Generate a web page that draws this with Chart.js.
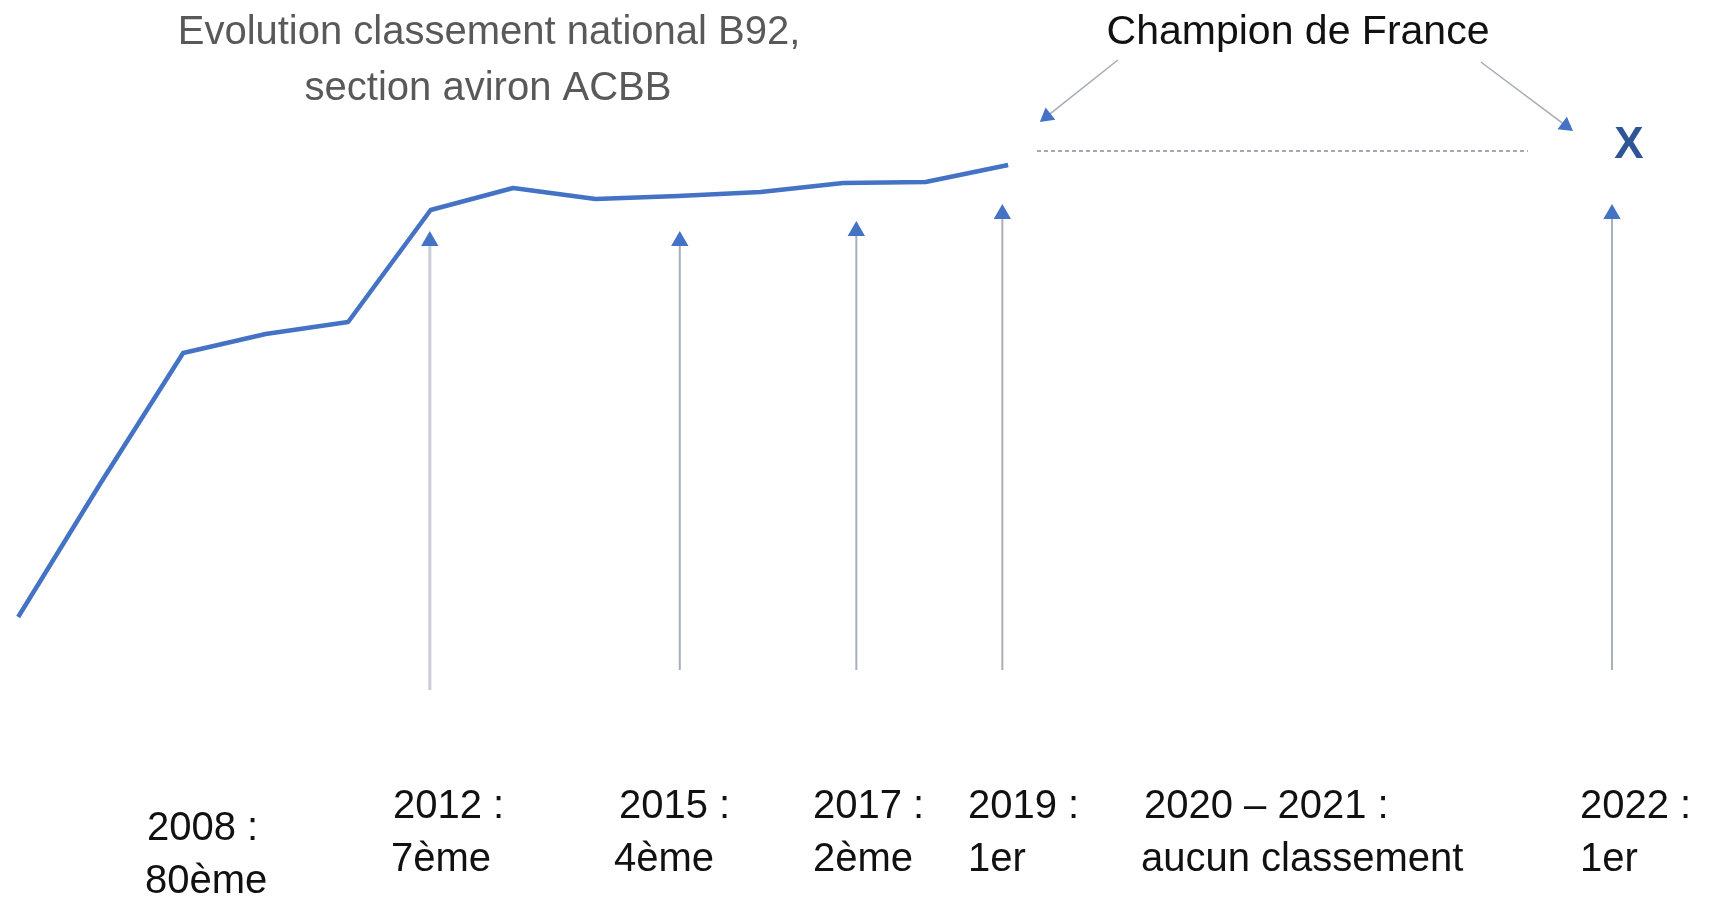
<!DOCTYPE html>
<html>
<head>
<meta charset="utf-8">
<script src="https://cdn.jsdelivr.net/npm/chart.js@4/dist/chart.umd.min.js"></script>
<style>
  html, body { margin: 0; padding: 0; background: #ffffff; }
  #wrap { width: 1711px; height: 900px; position: relative; }
  canvas { display: block; }
</style>
</head>
<body>
<div id="wrap"><canvas id="c" width="1711" height="900"></canvas></div>
<script>
// ---- Data ----
// progression curve of the national ranking (higher = better), one point per season
const years = [2007, 2008, 2009, 2010, 2011, 2012, 2013, 2014, 2015, 2016, 2017, 2018, 2019];
const level = [31.44, 46.33, 60.78, 62.89, 64.22, 76.67, 79.11, 77.89, 78.22, 78.67, 79.67, 79.78, 81.67];

// timeline events (vertical arrows)
const eventNames  = ['2012', '2015', '2017', '2019', '2022'];
const eventX      = [2011.99, 2015.02, 2017.16, 2018.93, 2026.32];
const eventHeadY  = [73.22, 73.22, 74.33, 76.22, 76.22];
const eventBaseY  = [23.33, 25.56, 25.56, 25.56, 25.56];

// "Champion de France" level (dotted line) and pointer arrows
const championLevel = 83.22;
const championFrom  = 2019.35;
const championTo    = 2025.30;
const pointerTailX  = [2020.33, 2024.73];
const pointerTailY  = [93.33, 93.11];
const pointerHeadX  = [2019.47, 2025.76];
const pointerHeadY  = [87.07, 86.04];
const pointerAngle  = [231.5, 126.9];

// texts
const titleLines = ['Evolution classement national B92,', 'section aviron ACBB'];
const championText = 'Champion de France';
const markText = 'X';
const labelTop    = ['2008 :', '2012 :', '2015 :', '2017 :', '2019 :', '2020 \u2013 2021 :', '2022 :'];
const labelBottom = ['80ème', '7ème', '4ème', '2ème', '1er', 'aucun classement', '1er'];

// ---- Build datasets ----
const BLUE = '#4472c4';
const datasets = [];

datasets.push({
  label: 'classement',
  data: years.map((y, i) => ({ x: y, y: level[i] })),
  borderColor: BLUE,
  borderWidth: 4.5,
  borderJoinStyle: 'round',
  borderCapStyle: 'butt',
  tension: 0,
  pointRadius: 0,
  pointHoverRadius: 0,
  fill: false
});

eventNames.forEach((n, i) => {
  const first = i === 0;
  datasets.push({
    label: 'evt ' + n,
    data: [{ x: eventX[i], y: eventBaseY[i] }, { x: eventX[i], y: eventHeadY[i] }],
    borderColor: first ? '#c9ccd2' : '#a9afb9',
    borderWidth: first ? 3 : 2,
    pointRadius: [0, 10],
    pointHoverRadius: 0,
    pointStyle: 'triangle',
    pointBackgroundColor: BLUE,
    pointBorderWidth: 0,
    tension: 0,
    fill: false
  });
});

datasets.push({
  label: 'champion',
  data: [{ x: championFrom, y: championLevel }, { x: championTo, y: championLevel }],
  borderColor: '#848d9b',
  borderWidth: 1.5,
  borderDash: [4, 3],
  pointRadius: 0,
  pointHoverRadius: 0,
  fill: false
});

pointerTailX.forEach((tx, i) => {
  datasets.push({
    label: 'pointer ' + i,
    data: [{ x: tx, y: pointerTailY[i] }, { x: pointerHeadX[i], y: pointerHeadY[i] }],
    borderColor: '#a3aab6',
    borderWidth: 1.5,
    pointRadius: [0, 9],
    pointHoverRadius: 0,
    pointStyle: 'triangle',
    pointRotation: [0, pointerAngle[i]],
    pointBackgroundColor: BLUE,
    pointBorderWidth: 0,
    fill: false
  });
});

// ---- Text plugin ----
const textPlugin = {
  id: 'texts',
  afterDraw(chart) {
    const ctx = chart.ctx;
    ctx.save();
    const FONT = '"Liberation Sans", Arial, sans-serif';

    // title
    ctx.fillStyle = '#595959';
    ctx.font = '40px ' + FONT;
    ctx.textAlign = 'center';
    ctx.textBaseline = 'alphabetic';
    ctx.fillText(titleLines[0], 489, 44);
    ctx.fillText(titleLines[1], 488, 100);

    // champion text
    ctx.fillStyle = '#111111';
    ctx.font = '41px ' + FONT;
    ctx.fillText(championText, 1298, 44);

    // X mark
    ctx.fillStyle = '#2f5597';
    ctx.font = 'bold 44px ' + FONT;
    ctx.textBaseline = 'middle';
    ctx.fillText(markText, 1629, 146);

    // bottom timeline labels
    ctx.fillStyle = '#111111';
    ctx.font = '40px ' + FONT;
    ctx.textAlign = 'left';
    ctx.textBaseline = 'alphabetic';
    const lx  = [147, 393, 619, 813, 968, 1144, 1580];
    const lx2 = [145, 391, 614, 813, 968, 1141, 1580];
    labelTop.forEach((t, i) => {
      const b1 = i === 0 ? 840 : 818;
      const b2 = i === 0 ? 893 : 871;
      ctx.fillText(t, lx[i], b1);
      ctx.fillText(labelBottom[i], lx2[i], b2);
    });
    ctx.restore();
  }
};

new Chart(document.getElementById('c'), {
  type: 'line',
  data: { datasets },
  options: {
    responsive: false,
    animation: false,
    devicePixelRatio: 1,
    events: [],
    layout: { padding: 0, autoPadding: false },
    plugins: { legend: { display: false }, tooltip: { enabled: false }, title: { display: false } },
    scales: {
      x: { type: 'linear', display: false, min: 2006.78, max: 2027.52 },
      y: { type: 'linear', display: false, min: 0, max: 100 }
    }
  },
  plugins: [textPlugin]
});
</script>
</body>
</html>
